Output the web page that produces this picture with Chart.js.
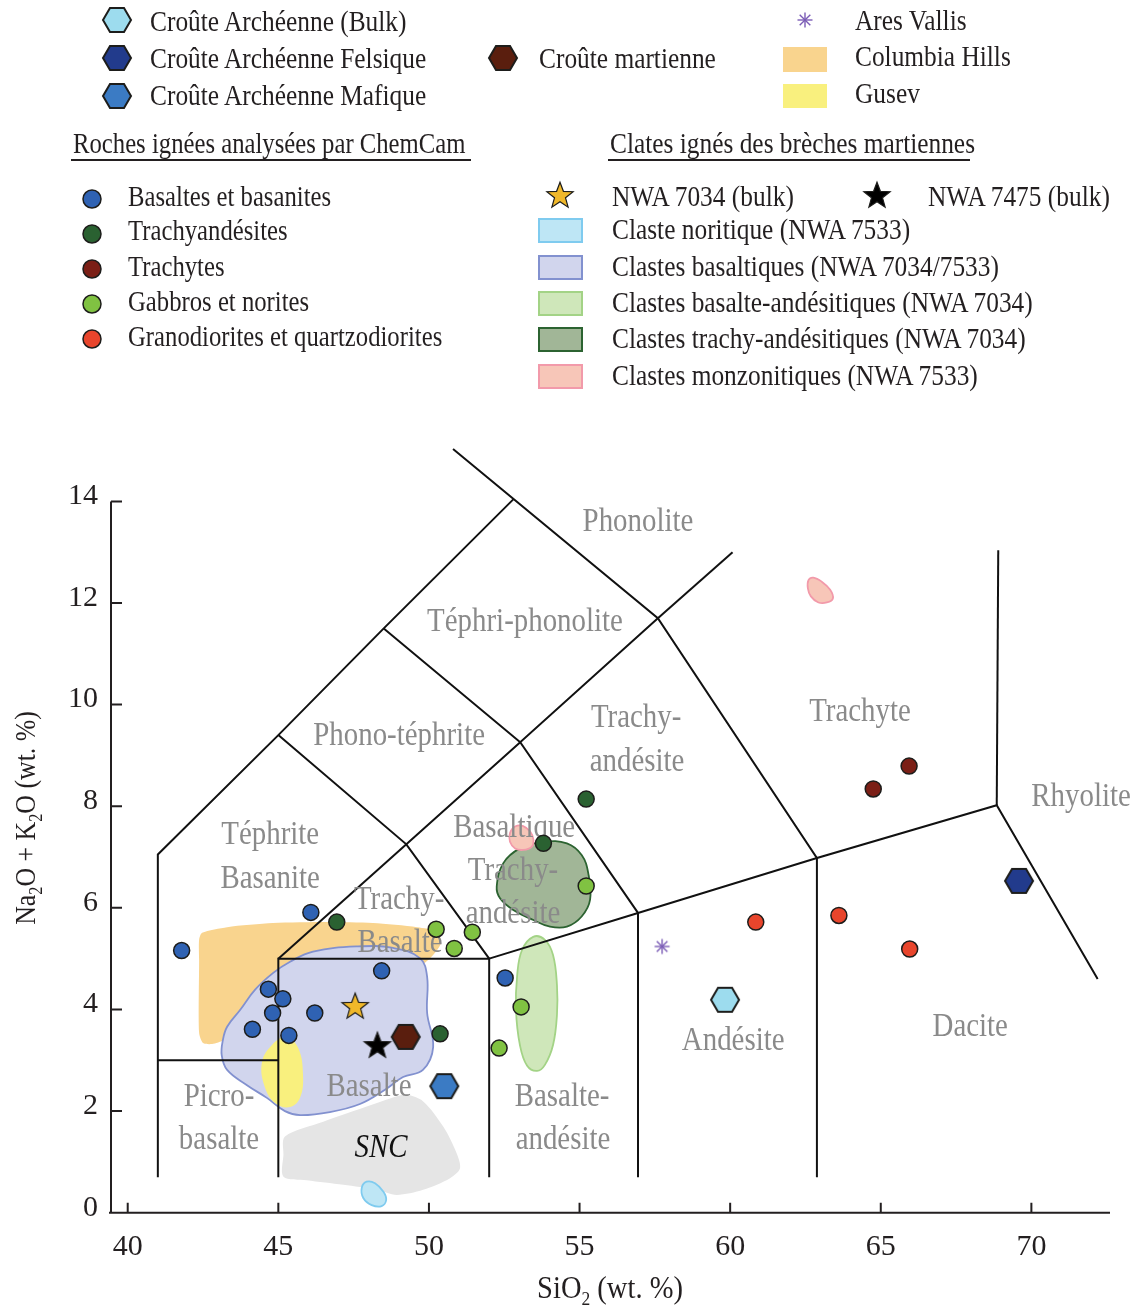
<!DOCTYPE html>
<html lang="fr">
<head>
<meta charset="UTF-8">
<title>Diagramme TAS – brèches martiennes</title>
<script src="https://cdn.jsdelivr.net/npm/chart.js"></script>
<style>
  body { margin: 0; background: #fff; color: #231f20; font-family: "Liberation Serif", "Times New Roman", serif; }
  #page { position: relative; width: 1139px; height: 1310px; overflow: hidden; }
  #graphe { position: absolute; left: 0; top: 0; width: 1139px; height: 1310px; }
  .lg { position: absolute; font-size: 29px; line-height: 36px; white-space: nowrap; transform: scaleX(0.875); transform-origin: 0 50%; }
  .lg.etroit { transform: scaleX(0.852); }
  .sw, .marq, .trait { position: absolute; }
  .trait { height: 2px; background: #231f20; }
</style>
</head>
<body>
<div id="page">
  <div id="graphe"><canvas id="tas"></canvas></div>
  <div id="legende"></div>
</div>
<script>
  // --- limites des champs TAS (SiO2, Na2O+K2O) ---
  const tasLignes = [
    [[41, 0.7], [41, 7.05], [45, 9.4], [48.5, 11.5], [52.8, 14.04]],
    [[50.8, 15.03], [57.6, 11.7], [62.88, 6.98], [68.85, 8.02], [72.2, 4.6]],
    [[57.6, 11.7], [60.08, 13.0]],
    [[48.5, 11.5], [53.03, 9.26], [57.6, 11.7]],
    [[45, 9.4], [49.25, 7.25], [52, 5]],
    [[49.25, 7.25], [53.03, 9.26], [56.94, 5.9]],
    [[52, 5], [56.94, 5.9], [62.88, 6.98]],
    [[45, 0.7], [45, 5], [52, 5], [52, 0.7]],
    [[45, 5], [49.25, 7.25]],
    [[41, 3], [45, 3]],
    [[56.94, 5.9], [56.94, 0.7]],
    [[62.88, 6.98], [62.88, 0.7]],
    [[68.85, 8.02], [68.9, 13.04]]
  ];

  // --- domaines (contours) ---
  const columbiaHills = [[42.47, 5.51], [43.3, 5.62], [44.82, 5.7], [46.62, 5.72], [48.14, 5.7], [49.61, 5.62], [50.27, 5.53], [50.4, 5.31], [50.04, 5.01], [49.04, 4.58], [45.72, 4.19], [43.73, 3.64], [43.2, 3.4], [42.8, 3.32], [42.5, 3.34], [42.37, 3.54], [42.37, 4.97], [42.37, 5.37]];
  const clastesBasaltiques = [[46.15, 5.14], [47.6, 5.24], [48.81, 5.21], [49.7, 5.01], [49.94, 4.64], [49.94, 3.93], [50.14, 3.26], [49.8, 2.81], [49.14, 2.67], [48.54, 2.42], [47.71, 2.14], [46.71, 1.98], [45.72, 1.92], [45.22, 2.0], [44.62, 2.26], [43.96, 2.51], [43.3, 2.81], [43.12, 3.1], [43.16, 3.4], [43.3, 3.66], [43.73, 3.99], [44.23, 4.39], [44.83, 4.72], [45.39, 4.94]];
  const gusev = [[45.26, 3.46], [45.66, 3.24], [45.82, 2.71], [45.72, 2.26], [45.39, 2.08], [44.89, 2.16], [44.53, 2.51], [44.46, 2.97], [44.79, 3.3]];
  const snc = [[45.22, 1.5], [46.49, 1.79], [47.6, 2.02], [48.71, 2.25], [49.26, 2.32], [49.81, 2.19], [50.48, 1.69], [50.92, 1.17], [51.03, 0.87], [50.7, 0.68], [49.81, 0.45], [48.93, 0.35], [48.27, 0.45], [47.16, 0.55], [45.94, 0.64], [45.17, 0.71], [45.17, 1.14]];
  const clasteNoritique = [[47.93, 0.61], [48.21, 0.58], [48.49, 0.41], [48.58, 0.25], [48.43, 0.13], [48.1, 0.15], [47.82, 0.29], [47.77, 0.49]];
  const clastesBasalteAndesitiques = [[53.46, 5.43], [53.85, 5.37], [54.12, 5.07], [54.25, 4.48], [54.25, 3.89], [54.12, 3.3], [53.85, 2.91], [53.59, 2.79], [53.26, 2.89], [53.02, 3.3], [52.89, 3.99], [52.93, 4.68], [53.09, 5.17]];
  const clastesTrachyAndesitiques = [[52.25, 6.42], [52.47, 6.88], [53.02, 7.17], [53.8, 7.3], [54.58, 7.27], [55.07, 7.04], [55.29, 6.68], [55.35, 6.16], [55.07, 5.83], [54.58, 5.63], [54.02, 5.63], [53.47, 5.76], [52.8, 5.96], [52.36, 6.19]];
  const monzonitiqueA = [[52.69, 7.47], [52.86, 7.6], [53.13, 7.61], [53.36, 7.5], [53.47, 7.34], [53.41, 7.2], [53.13, 7.14], [52.86, 7.17], [52.69, 7.3]];
  const monzonitiqueB = [[62.76, 12.5], [63.04, 12.42], [63.32, 12.26], [63.41, 12.09], [63.21, 12.01], [62.93, 12.01], [62.68, 12.13], [62.58, 12.29], [62.6, 12.45]];

  // --- analyses ChemCam ---
  const basaltes = [[41.79, 5.16], [46.08, 5.91], [48.43, 4.76], [44.67, 4.4], [45.15, 4.21], [44.81, 3.93], [46.21, 3.93], [44.14, 3.61], [45.35, 3.49], [52.53, 4.62]];
  const trachyandesites = [[46.94, 5.72], [50.37, 3.52], [53.8, 7.27], [55.22, 8.14]];
  const trachytes = [[64.75, 8.34], [65.94, 8.79]];
  const gabbros = [[50.24, 5.58], [50.84, 5.2], [51.44, 5.52], [55.22, 6.43], [53.06, 4.05], [52.33, 3.24]];
  const granodiorites = [[60.85, 5.72], [63.61, 5.85], [65.96, 5.19]];

  // --- croûtes, météorites, sites ---
  const archeenneBulk = [[59.83, 4.19]];
  const archeenneFelsique = [[69.59, 6.53]];
  const archeenneMafique = [[50.51, 2.49]];
  const crouteMartienne = [[49.23, 3.46]];
  const nwa7034 = [[47.55, 4.07]];
  const nwa7475 = [[48.29, 3.3]];
  const aresVallis = [[57.74, 5.24]];

  // --- noms des champs ---
  const nomsChamps = [
    ['Phonolite', 56.94, 13.6], ['Téphri-phonolite', 53.19, 11.63], ['Phono-téphrite', 49.01, 9.38],
    ['Trachy-', 56.88, 9.74], ['andésite', 56.91, 8.87], ['Trachyte', 64.31, 9.86], ['Rhyolite', 71.65, 8.18],
    ['Téphrite', 44.73, 7.43], ['Basanite', 44.73, 6.57],
    ['Basaltique', 52.83, 7.57], ['Trachy-', 52.79, 6.73], ['andésite', 52.79, 5.88],
    ['Trachy-', 49.01, 6.16], ['Basalte', 49.04, 5.31],
    ['Andésite', 60.1, 3.38], ['Dacite', 67.97, 3.66], ['Basalte', 48.01, 2.47],
    ['Picro-', 43.03, 2.28], ['basalte', 43.03, 1.43], ['Basalte-', 54.42, 2.28], ['andésite', 54.45, 1.43]
  ];
  const etiquetteSNC = ['SNC', 48.41, 1.27];

  const encre = '#231f20';
  const police = '"Liberation Serif", "Times New Roman", serif';

  function hexagone(fond) {
    const c = document.createElement('canvas');
    c.width = 32; c.height = 28;
    const g = c.getContext('2d');
    g.beginPath();
    g.moveTo(2, 14); g.lineTo(9, 2); g.lineTo(23, 2); g.lineTo(30, 14); g.lineTo(23, 26); g.lineTo(9, 26);
    g.closePath();
    g.fillStyle = fond; g.fill();
    g.lineWidth = 2; g.strokeStyle = '#1d1d1b'; g.stroke();
    return c;
  }
  function etoile(fond) {
    const c = document.createElement('canvas');
    c.width = 32; c.height = 32;
    const g = c.getContext('2d');
    g.beginPath();
    for (let k = 0; k < 10; k++) {
      const r = k % 2 ? 5.8 : 13.8, a = -Math.PI / 2 + k * Math.PI / 5;
      g.lineTo(16 + r * Math.cos(a), 17 + r * Math.sin(a));
    }
    g.closePath();
    g.fillStyle = fond; g.fill();
    g.lineWidth = 1.2; g.strokeStyle = '#1d1d1b'; g.stroke();
    return c;
  }
  function rond(fond, r) {
    const c = document.createElement('canvas');
    c.width = c.height = 2 * r + 4;
    const g = c.getContext('2d');
    g.beginPath(); g.arc(r + 2, r + 2, r, 0, Math.PI * 2);
    g.fillStyle = fond; g.fill();
    g.lineWidth = 1.5; g.strokeStyle = '#1d1d1b'; g.stroke();
    return c;
  }
  function asterisque(coul) {
    const c = document.createElement('canvas');
    c.width = c.height = 20;
    const g = c.getContext('2d');
    g.strokeStyle = coul; g.lineWidth = 1.4;
    for (let k = 0; k < 4; k++) {
      const a = k * Math.PI / 4;
      g.beginPath();
      g.moveTo(10 - 7.5 * Math.cos(a), 10 - 7.5 * Math.sin(a));
      g.lineTo(10 + 7.5 * Math.cos(a), 10 + 7.5 * Math.sin(a));
      g.stroke();
    }
    return c;
  }

  const coul = {
    basalte: '#2f62b3', trachyand: '#2a6131', trachyte: '#7b1f16', gabbro: '#80c242', grano: '#e8452c',
    bulk: '#9ddcee', felsique: '#223b8c', mafique: '#3b7bc4', mars: '#5a1e0e',
    or: '#f0b82a', noir: '#000000', ares: '#7b5cb6'
  };
  const img = {
    bulk: hexagone(coul.bulk), felsique: hexagone(coul.felsique), mafique: hexagone(coul.mafique), mars: hexagone(coul.mars),
    or: etoile(coul.or), noir: etoile(coul.noir), ares: asterisque(coul.ares)
  };

  const xy = arr => arr.map(p => ({ x: p[0], y: p[1] }));

  function forme(pts, fond, bord, ordre, tension) {
    return {
      type: 'line', data: xy(pts), ferme: true,
      backgroundColor: fond, borderColor: bord || fond, borderWidth: bord ? 1.8 : 0,
      fill: 'shape', tension: tension, pointRadius: 0, order: ordre
    };
  }
  function points(pts, fond) {
    return {
      data: xy(pts), marqueur: true, pointStyle: 'circle', pointRadius: 8,
      pointBackgroundColor: fond, pointBorderColor: '#1d1d1b', pointBorderWidth: 1.5, order: 1
    };
  }
  function symbole(pts, image) {
    return { data: xy(pts), marqueur: true, pointStyle: image, pointRadius: 12, order: 0 };
  }

  const jeux = [
    forme(columbiaHills, '#f9d48e', null, 30, 0.25),
    forme(clastesBasaltiques, '#d1d5ed', '#8291cf', 29, 0.4),
    forme(gusev, '#f9f07e', null, 28, 0.4),
    forme(snc, '#e5e5e5', null, 27, 0.3),
    forme(clasteNoritique, '#bee6f5', '#7fcbef', 26, 0.4),
    forme(clastesBasalteAndesitiques, '#cfe7ba', '#a3d386', 25, 0.4),
    forme(clastesTrachyAndesitiques, '#a1b697', '#2c6331', 24, 0.4),
    forme(monzonitiqueA, '#f7c6b8', '#f29aaa', 23, 0.4),
    forme(monzonitiqueB, '#f7c6b8', '#f29aaa', 23, 0.4)
  ];
  tasLignes.forEach(l => jeux.push({
    type: 'line', data: xy(l), borderColor: '#111111', borderWidth: 2, pointRadius: 0, fill: false, tension: 0, order: 10
  }));
  jeux.push(
    points(basaltes, coul.basalte), points(trachyandesites, coul.trachyand), points(trachytes, coul.trachyte),
    points(gabbros, coul.gabbro), points(granodiorites, coul.grano),
    symbole(archeenneBulk, img.bulk), symbole(archeenneFelsique, img.felsique), symbole(archeenneMafique, img.mafique),
    symbole(crouteMartienne, img.mars), symbole(nwa7034, img.or), symbole(nwa7475, img.noir), symbole(aresVallis, img.ares)
  );

  // contours fermés et lissés
  const boucles = {
    id: 'boucles',
    afterDatasetsUpdate(chart) {
      chart.data.datasets.forEach((ds, i) => {
        if (!ds.ferme) return;
        const l = chart.getDatasetMeta(i).dataset;
        if (!l) return;
        l._loop = true;
        l._fullLoop = true;
        l._pointsUpdated = false;
        delete l._segments;
        l._path = undefined;
      });
    }
  };

  function ecrire(ctx, txt, x, y, taille, couleur, sx, style) {
    ctx.save();
    ctx.translate(x, y);
    ctx.scale(sx, 1);
    ctx.font = (style || '') + ' ' + taille + 'px ' + police;
    ctx.fillStyle = couleur;
    ctx.textAlign = 'center';
    ctx.textBaseline = 'middle';
    ctx.fillText(txt, 0, 0);
    ctx.restore();
  }

  // noms des champs sous les marqueurs
  let nomsFaits = false;
  const noms = {
    id: 'noms',
    beforeDatasetsDraw() { nomsFaits = false; },
    beforeDatasetDraw(chart, args) {
      if (nomsFaits || !chart.data.datasets[args.index].marqueur) return;
      nomsFaits = true;
      const { ctx, scales: { x, y } } = chart;
      nomsChamps.forEach(([t, vx, vy]) => ecrire(ctx, t, x.getPixelForValue(vx), y.getPixelForValue(vy), 34, '#8a8a8a', 0.85));
      ecrire(ctx, etiquetteSNC[0], x.getPixelForValue(etiquetteSNC[1]), y.getPixelForValue(etiquetteSNC[2]), 34, '#111', 0.85, 'italic');
    }
  };

  // texte avec indices
  function texteIndice(ctx, parts, taille, sx) {
    ctx.font = taille + 'px ' + police;
    const petit = Math.round(taille * 0.62) + 'px ' + police;
    let total = 0;
    parts.forEach(([t, ind]) => { ctx.font = ind ? petit : taille + 'px ' + police; total += ctx.measureText(t).width; });
    ctx.scale(sx, 1);
    let cx = -total / 2;
    ctx.textAlign = 'left';
    ctx.textBaseline = 'alphabetic';
    parts.forEach(([t, ind]) => {
      ctx.font = ind ? petit : taille + 'px ' + police;
      ctx.fillText(t, cx, ind ? 7 : 0);
      cx += ctx.measureText(t).width;
    });
  }

  const axes = {
    id: 'axes',
    afterDraw(chart) {
      const { ctx, chartArea: a, scales: { x, y } } = chart;
      const y0 = y.getPixelForValue(0), y14 = y.getPixelForValue(14);
      ctx.save();
      ctx.strokeStyle = encre;
      ctx.lineWidth = 2;
      ctx.beginPath();
      ctx.moveTo(a.left, y14); ctx.lineTo(a.left, y0);
      ctx.moveTo(a.left - 2, y0); ctx.lineTo(a.right, y0);
      x.ticks.forEach(t => { const p = x.getPixelForValue(t.value); ctx.moveTo(p, y0); ctx.lineTo(p, y0 - 10); });
      y.ticks.forEach(t => { if (t.value > 14) return; const p = y.getPixelForValue(t.value); ctx.moveTo(a.left, p); ctx.lineTo(a.left + 11, p); });
      ctx.stroke();
      ctx.fillStyle = encre;
      ctx.save();
      ctx.translate(610, 1298);
      texteIndice(ctx, [['SiO'], ['2', true], [' (wt. %)']], 31, 0.92);
      ctx.restore();
      ctx.save();
      ctx.translate(35, 818);
      ctx.rotate(-Math.PI / 2);
      texteIndice(ctx, [['Na'], ['2', true], ['O + K'], ['2', true], ['O (wt. %)']], 30, 0.86);
      ctx.restore();
      ctx.restore();
    }
  };

  new Chart(document.getElementById('tas'), {
    type: 'scatter',
    data: { datasets: jeux },
    options: {
      responsive: true,
      maintainAspectRatio: false,
      animation: false,
      events: [],
      layout: { padding: { top: 446, right: 29, bottom: 0, left: 0 } },
      plugins: { legend: { display: false }, tooltip: { enabled: false } },
      scales: {
        x: {
          type: 'linear', min: 39.445, max: 72.61,
          afterFit: s => { s.height = 97.3; },
          grid: { display: false, drawTicks: false },
          border: { display: false },
          ticks: { stepSize: 5, includeBounds: false, padding: 16, color: encre, font: { family: police, size: 30 } }
        },
        y: {
          type: 'linear', min: 0, max: 15.09,
          afterFit: s => { s.width = 111; },
          grid: { display: false, drawTicks: false },
          border: { display: false },
          ticks: {
            stepSize: 2, includeBounds: false, padding: 13, labelOffset: -5, color: encre,
            font: { family: police, size: 30 },
            callback: v => (v <= 14 ? v : '')
          }
        }
      }
    },
    plugins: [boucles, noms, axes]
  });

  // --- légende ---
  const leg = document.getElementById('legende');
  function txt(t, x, base, etroit) {
    const d = document.createElement('div');
    d.className = etroit ? 'lg etroit' : 'lg';
    d.style.left = x + 'px';
    d.style.top = (base - 28) + 'px';
    d.textContent = t;
    leg.appendChild(d);
  }
  function marq(c, cx, cy) {
    c.className = 'marq';
    c.style.left = (cx - c.width / 2) + 'px';
    c.style.top = (cy - c.height / 2) + 'px';
    leg.appendChild(c);
  }
  function carre(x, y, w, h, fond, bord) {
    const d = document.createElement('div');
    d.className = 'sw';
    d.style.cssText += `left:${x}px;top:${y}px;width:${w}px;height:${h}px;background:${fond};` +
      (bord ? `box-sizing:border-box;border:2px solid ${bord};` : '');
    leg.appendChild(d);
  }
  function trait(x, y, w) {
    const d = document.createElement('div');
    d.className = 'trait';
    d.style.left = x + 'px'; d.style.top = y + 'px'; d.style.width = w + 'px';
    leg.appendChild(d);
  }

  marq(hexagone(coul.bulk), 117, 20); txt('Croûte Archéenne (Bulk)', 150, 30.5);
  marq(hexagone(coul.felsique), 117, 58); txt('Croûte Archéenne Felsique', 150, 67.5);
  marq(hexagone(coul.mafique), 117, 96); txt('Croûte Archéenne Mafique', 150, 104.5);
  marq(hexagone(coul.mars), 503, 58); txt('Croûte martienne', 539, 68);
  marq(asterisque(coul.ares), 805, 20); txt('Ares Vallis', 855, 30);
  carre(783, 47, 44, 25, '#f9d48e'); txt('Columbia Hills', 855, 66);
  carre(783, 84, 44, 24, '#f9f07e'); txt('Gusev', 855, 103);

  txt('Roches ignées analysées par ChemCam', 73, 153, true); trait(71, 159, 400);
  txt('Clates ignés des brèches martiennes', 610, 153); trait(608, 159, 362);

  marq(rond(coul.basalte, 9), 91.5, 199); txt('Basaltes et basanites', 128, 206, true);
  marq(rond(coul.trachyand, 9), 91.5, 234); txt('Trachyandésites', 128, 240, true);
  marq(rond(coul.trachyte, 9), 91.5, 269); txt('Trachytes', 128, 276, true);
  marq(rond(coul.gabbro, 9), 91.5, 304); txt('Gabbros et norites', 128, 311, true);
  marq(rond(coul.grano, 9), 91.5, 339); txt('Granodiorites et quartzodiorites', 128, 346, true);

  marq(etoile(coul.or), 560, 195); txt('NWA 7034 (bulk)', 612, 206);
  marq(etoile(coul.noir), 877, 195); txt('NWA 7475 (bulk)', 928, 206);
  carre(538, 218, 45, 25, '#bee6f5', '#7fcbef'); txt('Claste noritique (NWA 7533)', 612, 239);
  carre(538, 255, 45, 25, '#d1d5ed', '#8291cf'); txt('Clastes basaltiques (NWA 7034/7533)', 612, 276);
  carre(538, 291, 45, 25, '#cfe7ba', '#a3d386'); txt('Clastes basalte-andésitiques (NWA 7034)', 612, 312);
  carre(538, 327, 45, 25, '#a1b697', '#2c6331'); txt('Clastes trachy-andésitiques (NWA 7034)', 612, 348);
  carre(538, 364, 45, 25, '#f7c6b8', '#f29aaa'); txt('Clastes monzonitiques (NWA 7533)', 612, 385);
</script>
</body>
</html>
